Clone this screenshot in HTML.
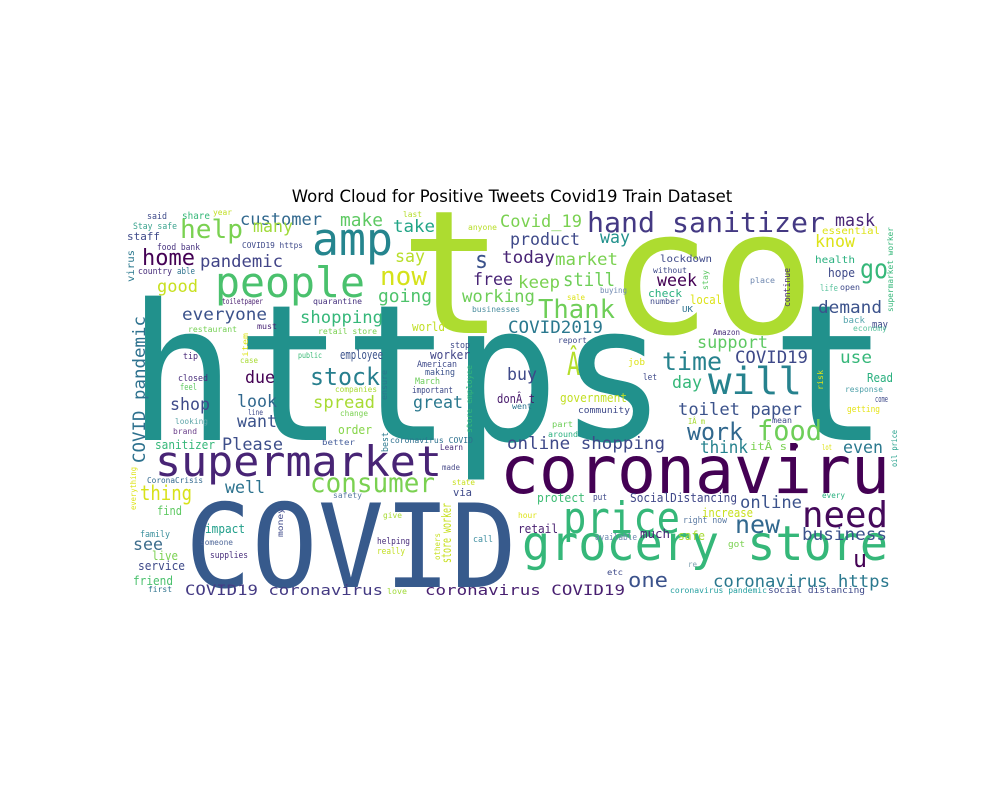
<!DOCTYPE html>
<html><head><meta charset="utf-8"><style>
html,body{margin:0;padding:0;background:#fff;}
svg{display:block;}
.w{font-family:"DejaVu Sans Mono","Liberation Mono",monospace;}
.t{font-family:"DejaVu Sans","Liberation Sans",sans-serif;}
</style></head><body>
<svg width="1000" height="800" viewBox="0 0 1000 800" xmlns="http://www.w3.org/2000/svg">
<rect width="1000" height="800" fill="#fff"/>
<text class="t" x="512" y="202" font-size="16.5" text-anchor="middle" fill="#000">Word Cloud for Positive Tweets Covid19 Train Dataset</text>
<g class="w">
<text x="128" y="440" font-size="190" fill="#21918c" textLength="539" lengthAdjust="spacingAndGlyphs">https</text>
<text x="770" y="440" font-size="190" fill="#21918c" textLength="120" lengthAdjust="spacingAndGlyphs">t</text>
<text x="400" y="333" font-size="172" fill="#addc30" textLength="415" lengthAdjust="spacingAndGlyphs">t co</text>
<text x="185" y="587" font-size="116" fill="#375a8c" textLength="332" lengthAdjust="spacingAndGlyphs">COVID</text>
<text x="500" y="493" font-size="66" fill="#440154" textLength="390" lengthAdjust="spacingAndGlyphs">coronaviru</text>
<text x="155" y="476" font-size="42" fill="#482475" textLength="287" lengthAdjust="spacingAndGlyphs">supermarket</text>
<text x="522" y="560" font-size="48" fill="#35b779" textLength="366" lengthAdjust="spacingAndGlyphs">grocery store</text>
<text x="563" y="533" font-size="44" fill="#35b779" textLength="117" lengthAdjust="spacingAndGlyphs">price</text>
<text x="215" y="297" font-size="42" fill="#4ac16d" textLength="150" lengthAdjust="spacingAndGlyphs">people</text>
<text x="312" y="255" font-size="45" fill="#25858e" textLength="81" lengthAdjust="spacingAndGlyphs">amp</text>
<text x="802" y="527" font-size="36" fill="#45095b" textLength="86" lengthAdjust="spacingAndGlyphs">need</text>
<text x="708" y="394" font-size="37" fill="#26828e" textLength="94" lengthAdjust="spacingAndGlyphs">will</text>
<text x="587" y="232" font-size="28" fill="#443983" textLength="238" lengthAdjust="spacingAndGlyphs">hand sanitizer</text>
<text x="310" y="492" font-size="27" fill="#7ad151" textLength="125" lengthAdjust="spacingAndGlyphs">consumer</text>
<text x="538" y="318" font-size="26" fill="#6ece58" textLength="77" lengthAdjust="spacingAndGlyphs">Thank</text>
<text x="757" y="440" font-size="28" fill="#6ece58" textLength="65" lengthAdjust="spacingAndGlyphs">food</text>
<text x="687" y="440" font-size="24" fill="#31688e" textLength="56" lengthAdjust="spacingAndGlyphs">work</text>
<text x="662" y="370" font-size="25" fill="#26828e" textLength="60" lengthAdjust="spacingAndGlyphs">time</text>
<text x="735" y="533" font-size="25" fill="#31688e" textLength="45" lengthAdjust="spacingAndGlyphs">new</text>
<text x="180" y="238" font-size="26" fill="#7ad151" textLength="63" lengthAdjust="spacingAndGlyphs">help</text>
<text x="142" y="265" font-size="22" fill="#440154" textLength="53" lengthAdjust="spacingAndGlyphs">home</text>
<text x="310" y="385" font-size="24" fill="#277f8e" textLength="70" lengthAdjust="spacingAndGlyphs">stock</text>
<text x="860" y="278" font-size="27" fill="#35b779" textLength="28" lengthAdjust="spacingAndGlyphs">go</text>
<text x="853" y="567" font-size="24" fill="#440154" textLength="14" lengthAdjust="spacingAndGlyphs">u</text>
<text x="475" y="268" font-size="24" fill="#3b528b" textLength="13" lengthAdjust="spacingAndGlyphs">s</text>
<text x="628" y="587" font-size="20" fill="#3b528b" textLength="40" lengthAdjust="spacingAndGlyphs">one</text>
<text x="380" y="285" font-size="26" fill="#d5e21a" textLength="47" lengthAdjust="spacingAndGlyphs">now</text>
<text x="567" y="375" font-size="32" fill="#b5de2b" textLength="13" lengthAdjust="spacingAndGlyphs">Â</text>
<text x="140" y="500" font-size="20" fill="#d8e219" textLength="52" lengthAdjust="spacingAndGlyphs">thing</text>
<text x="240" y="225" font-size="17" fill="#31688e" textLength="82" lengthAdjust="spacingAndGlyphs">customer</text>
<text x="253" y="232" font-size="17" fill="#a0da39" textLength="40" lengthAdjust="spacingAndGlyphs">many</text>
<text x="340" y="226" font-size="18" fill="#5ec962" textLength="43" lengthAdjust="spacingAndGlyphs">make</text>
<text x="393" y="232" font-size="17" fill="#20a486" textLength="42" lengthAdjust="spacingAndGlyphs">take</text>
<text x="200" y="267" font-size="17" fill="#414487" textLength="83" lengthAdjust="spacingAndGlyphs">pandemic</text>
<text x="157" y="292" font-size="17" fill="#c8e020" textLength="41" lengthAdjust="spacingAndGlyphs">good</text>
<text x="395" y="262" font-size="17" fill="#b8de29" textLength="30" lengthAdjust="spacingAndGlyphs">say</text>
<text x="378" y="302" font-size="18" fill="#4ec36b" textLength="54" lengthAdjust="spacingAndGlyphs">going</text>
<text x="182" y="320" font-size="17" fill="#3b528b" textLength="85" lengthAdjust="spacingAndGlyphs">everyone</text>
<text x="300" y="323" font-size="17" fill="#35b779" textLength="83" lengthAdjust="spacingAndGlyphs">shopping</text>
<text x="245" y="383" font-size="17" fill="#440154" textLength="30" lengthAdjust="spacingAndGlyphs">due</text>
<text x="170" y="410" font-size="17" fill="#3e4989" textLength="40" lengthAdjust="spacingAndGlyphs">shop</text>
<text x="237" y="407" font-size="17" fill="#31688e" textLength="40" lengthAdjust="spacingAndGlyphs">look</text>
<text x="313" y="408" font-size="17" fill="#a8db34" textLength="62" lengthAdjust="spacingAndGlyphs">spread</text>
<text x="413" y="408" font-size="17" fill="#2a788e" textLength="50" lengthAdjust="spacingAndGlyphs">great</text>
<text x="237" y="427" font-size="17" fill="#3b528b" textLength="40" lengthAdjust="spacingAndGlyphs">want</text>
<text x="222" y="450" font-size="17" fill="#3d4e8a" textLength="61" lengthAdjust="spacingAndGlyphs">Please</text>
<text x="225" y="493" font-size="17" fill="#2c728e" textLength="40" lengthAdjust="spacingAndGlyphs">well</text>
<text x="133" y="550" font-size="17" fill="#3d6d8c" textLength="30" lengthAdjust="spacingAndGlyphs">see</text>
<text x="185" y="595" font-size="14" fill="#443a83" textLength="198" lengthAdjust="spacingAndGlyphs">COVID19 coronavirus</text>
<text x="425" y="595" font-size="14" fill="#481f70" textLength="200" lengthAdjust="spacingAndGlyphs">coronavirus COVID19</text>
<text x="500" y="227" font-size="17" fill="#7ad151" textLength="82" lengthAdjust="spacingAndGlyphs">Covid_19</text>
<text x="835" y="226" font-size="17" fill="#482475" textLength="40" lengthAdjust="spacingAndGlyphs">mask</text>
<text x="510" y="245" font-size="17" fill="#3e4989" textLength="70" lengthAdjust="spacingAndGlyphs">product</text>
<text x="600" y="243" font-size="17" fill="#21918c" textLength="30" lengthAdjust="spacingAndGlyphs">way</text>
<text x="815" y="247" font-size="17" fill="#dde318" textLength="40" lengthAdjust="spacingAndGlyphs">know</text>
<text x="502" y="263" font-size="17" fill="#482475" textLength="53" lengthAdjust="spacingAndGlyphs">today</text>
<text x="555" y="265" font-size="17" fill="#7ad151" textLength="63" lengthAdjust="spacingAndGlyphs">market</text>
<text x="473" y="285" font-size="17" fill="#482475" textLength="40" lengthAdjust="spacingAndGlyphs">free</text>
<text x="518" y="288" font-size="17" fill="#7ad151" textLength="42" lengthAdjust="spacingAndGlyphs">keep</text>
<text x="563" y="286" font-size="19" fill="#6ece58" textLength="52" lengthAdjust="spacingAndGlyphs">still</text>
<text x="657" y="286" font-size="17" fill="#440154" textLength="40" lengthAdjust="spacingAndGlyphs">week</text>
<text x="462" y="302" font-size="17" fill="#6ece58" textLength="73" lengthAdjust="spacingAndGlyphs">working</text>
<text x="818" y="313" font-size="17" fill="#3b528b" textLength="64" lengthAdjust="spacingAndGlyphs">demand</text>
<text x="508" y="333" font-size="17" fill="#2a788e" textLength="95" lengthAdjust="spacingAndGlyphs">COVID2019</text>
<text x="697" y="348" font-size="17" fill="#5ec962" textLength="71" lengthAdjust="spacingAndGlyphs">support</text>
<text x="735" y="363" font-size="17" fill="#3e4989" textLength="73" lengthAdjust="spacingAndGlyphs">COVID19</text>
<text x="840" y="363" font-size="17" fill="#35b779" textLength="32" lengthAdjust="spacingAndGlyphs">use</text>
<text x="507" y="380" font-size="17" fill="#3e4989" textLength="30" lengthAdjust="spacingAndGlyphs">buy</text>
<text x="672" y="388" font-size="17" fill="#35b779" textLength="30" lengthAdjust="spacingAndGlyphs">day</text>
<text x="678" y="415" font-size="17" fill="#3b528b" textLength="124" lengthAdjust="spacingAndGlyphs">toilet paper</text>
<text x="507" y="449" font-size="17" fill="#3e4989" textLength="158" lengthAdjust="spacingAndGlyphs">online shopping</text>
<text x="700" y="453" font-size="17" fill="#26828e" textLength="48" lengthAdjust="spacingAndGlyphs">think</text>
<text x="843" y="453" font-size="17" fill="#2a788e" textLength="40" lengthAdjust="spacingAndGlyphs">even</text>
<text x="740" y="508" font-size="17" fill="#3b528b" textLength="62" lengthAdjust="spacingAndGlyphs">online</text>
<text x="802" y="540" font-size="17" fill="#3b528b" textLength="85" lengthAdjust="spacingAndGlyphs">business</text>
<text x="713" y="587" font-size="17" fill="#2a788e" textLength="177" lengthAdjust="spacingAndGlyphs">coronavirus https</text>
<text x="155" y="449" font-size="12" fill="#35b779" textLength="60" lengthAdjust="spacingAndGlyphs">sanitizer</text>
<text x="338" y="434" font-size="12" fill="#86d549" textLength="34" lengthAdjust="spacingAndGlyphs">order</text>
<text x="453" y="496" font-size="11" fill="#3e4989" textLength="19" lengthAdjust="spacingAndGlyphs">via</text>
<text x="157" y="515" font-size="12" fill="#5ec962" textLength="25" lengthAdjust="spacingAndGlyphs">find</text>
<text x="205" y="533" font-size="12" fill="#1f9e89" textLength="40" lengthAdjust="spacingAndGlyphs">impact</text>
<text x="152" y="560" font-size="12" fill="#7ad151" textLength="26" lengthAdjust="spacingAndGlyphs">live</text>
<text x="138" y="570" font-size="12" fill="#3e4989" textLength="47" lengthAdjust="spacingAndGlyphs">service</text>
<text x="133" y="585" font-size="12" fill="#4ac16d" textLength="40" lengthAdjust="spacingAndGlyphs">friend</text>
<text x="340" y="359" font-size="12" fill="#3b528b" textLength="43" lengthAdjust="spacingAndGlyphs">employee</text>
<text x="430" y="359" font-size="12" fill="#414487" textLength="40" lengthAdjust="spacingAndGlyphs">worker</text>
<text x="412" y="331" font-size="12" fill="#c0df25" textLength="33" lengthAdjust="spacingAndGlyphs">world</text>
<text x="127" y="240" font-size="11" fill="#3e4989" textLength="33" lengthAdjust="spacingAndGlyphs">staff</text>
<text x="497" y="403" font-size="12" fill="#481a6c" textLength="38" lengthAdjust="spacingAndGlyphs">donÂ t</text>
<text x="560" y="402" font-size="12" fill="#c2df23" textLength="67" lengthAdjust="spacingAndGlyphs">government</text>
<text x="537" y="502" font-size="12" fill="#3dbc74" textLength="48" lengthAdjust="spacingAndGlyphs">protect</text>
<text x="630" y="502" font-size="12" fill="#3f4788" textLength="107" lengthAdjust="spacingAndGlyphs">SocialDistancing</text>
<text x="702" y="517" font-size="12" fill="#c8e020" textLength="51" lengthAdjust="spacingAndGlyphs">increase</text>
<text x="518" y="533" font-size="12" fill="#481f70" textLength="40" lengthAdjust="spacingAndGlyphs">retail</text>
<text x="640" y="538" font-size="12" fill="#482475" textLength="30" lengthAdjust="spacingAndGlyphs">much</text>
<text x="678" y="540" font-size="12" fill="#a8db34" textLength="27" lengthAdjust="spacingAndGlyphs">safe</text>
<text x="750" y="450" font-size="11" fill="#7ad151" textLength="37" lengthAdjust="spacingAndGlyphs">itÂ s</text>
<text x="660" y="262" font-size="10" fill="#3e4989" textLength="52" lengthAdjust="spacingAndGlyphs">lockdown</text>
<text x="815" y="263" font-size="10" fill="#2ab07f" textLength="40" lengthAdjust="spacingAndGlyphs">health</text>
<text x="822" y="234" font-size="10" fill="#dde318" textLength="58" lengthAdjust="spacingAndGlyphs">essential</text>
<text x="828" y="277" font-size="12" fill="#3e4989" textLength="27" lengthAdjust="spacingAndGlyphs">hope</text>
<text x="648" y="297" font-size="11" fill="#2ab07f" textLength="34" lengthAdjust="spacingAndGlyphs">check</text>
<text x="690" y="304" font-size="12" fill="#dde318" textLength="32" lengthAdjust="spacingAndGlyphs">local</text>
<text x="867" y="382" font-size="12" fill="#2ab07f" textLength="26" lengthAdjust="spacingAndGlyphs">Read</text>
<text x="872" y="328" font-size="11" fill="#3e4989" textLength="16" lengthAdjust="spacingAndGlyphs">may</text>
<text x="147" y="219" font-size="9" fill="#3e4a89" textLength="20" lengthAdjust="spacingAndGlyphs">said</text>
<text x="182" y="219" font-size="10" fill="#35b779" textLength="28" lengthAdjust="spacingAndGlyphs">share</text>
<text x="213" y="215" font-size="8" fill="#c2df23" textLength="19" lengthAdjust="spacingAndGlyphs">year</text>
<text x="133" y="229" font-size="9" fill="#3aa38e" textLength="44" lengthAdjust="spacingAndGlyphs">Stay safe</text>
<text x="157" y="250" font-size="9" fill="#46317e" textLength="43" lengthAdjust="spacingAndGlyphs">food bank</text>
<text x="138" y="274" font-size="9" fill="#472d7b" textLength="34" lengthAdjust="spacingAndGlyphs">country</text>
<text x="177" y="274" font-size="9" fill="#2c728e" textLength="18" lengthAdjust="spacingAndGlyphs">able</text>
<text x="242" y="248" font-size="8" fill="#3e4989" textLength="61" lengthAdjust="spacingAndGlyphs">COVID19 https</text>
<text x="222" y="304" font-size="8" fill="#481f70" textLength="41" lengthAdjust="spacingAndGlyphs">toiletpaper</text>
<text x="313" y="304" font-size="8" fill="#46327e" textLength="49" lengthAdjust="spacingAndGlyphs">quarantine</text>
<text x="188" y="332" font-size="8" fill="#75d054" textLength="49" lengthAdjust="spacingAndGlyphs">restaurant</text>
<text x="257" y="329" font-size="8" fill="#482475" textLength="20" lengthAdjust="spacingAndGlyphs">must</text>
<text x="318" y="334" font-size="8" fill="#7ad151" textLength="59" lengthAdjust="spacingAndGlyphs">retail store</text>
<text x="240" y="363" font-size="8" fill="#a8db34" textLength="18" lengthAdjust="spacingAndGlyphs">case</text>
<text x="183" y="359" font-size="9" fill="#482878" textLength="15" lengthAdjust="spacingAndGlyphs">tip</text>
<text x="178" y="381" font-size="9" fill="#472c7a" textLength="30" lengthAdjust="spacingAndGlyphs">closed</text>
<text x="180" y="390" font-size="9" fill="#5ec962" textLength="17" lengthAdjust="spacingAndGlyphs">feel</text>
<text x="298" y="358" font-size="8" fill="#3aba76" textLength="24" lengthAdjust="spacingAndGlyphs">public</text>
<text x="335" y="392" font-size="8" fill="#a8db34" textLength="42" lengthAdjust="spacingAndGlyphs">companies</text>
<text x="450" y="348" font-size="9" fill="#3e4a89" textLength="20" lengthAdjust="spacingAndGlyphs">stop</text>
<text x="417" y="367" font-size="9" fill="#3e4989" textLength="40" lengthAdjust="spacingAndGlyphs">American</text>
<text x="425" y="375" font-size="9" fill="#3b528b" textLength="30" lengthAdjust="spacingAndGlyphs">making</text>
<text x="415" y="384" font-size="9" fill="#6ccd5a" textLength="25" lengthAdjust="spacingAndGlyphs">March</text>
<text x="412" y="393" font-size="9" fill="#3e4a89" textLength="41" lengthAdjust="spacingAndGlyphs">important</text>
<text x="468" y="230" font-size="8" fill="#b8de29" textLength="29" lengthAdjust="spacingAndGlyphs">anyone</text>
<text x="403" y="217" font-size="8" fill="#b5de2b" textLength="19" lengthAdjust="spacingAndGlyphs">last</text>
<text x="175" y="424" font-size="8" fill="#5da5a8" textLength="33" lengthAdjust="spacingAndGlyphs">looking</text>
<text x="248" y="415" font-size="8" fill="#3e4989" textLength="15" lengthAdjust="spacingAndGlyphs">line</text>
<text x="340" y="416" font-size="8" fill="#7ad151" textLength="28" lengthAdjust="spacingAndGlyphs">change</text>
<text x="173" y="434" font-size="8" fill="#6a3f8a" textLength="24" lengthAdjust="spacingAndGlyphs">brand</text>
<text x="390" y="443" font-size="8" fill="#2d708e" textLength="83" lengthAdjust="spacingAndGlyphs">coronavirus COVID</text>
<text x="322" y="445" font-size="8" fill="#48609c" textLength="33" lengthAdjust="spacingAndGlyphs">better</text>
<text x="440" y="450" font-size="8" fill="#472c7a" textLength="23" lengthAdjust="spacingAndGlyphs">Learn</text>
<text x="442" y="470" font-size="8" fill="#4b4d8a" textLength="18" lengthAdjust="spacingAndGlyphs">made</text>
<text x="147" y="483" font-size="8" fill="#31688e" textLength="56" lengthAdjust="spacingAndGlyphs">CoronaCrisis</text>
<text x="452" y="485" font-size="8" fill="#c8e020" textLength="23" lengthAdjust="spacingAndGlyphs">state</text>
<text x="333" y="498" font-size="8" fill="#5c7ba3" textLength="29" lengthAdjust="spacingAndGlyphs">safety</text>
<text x="383" y="518" font-size="8" fill="#a8db34" textLength="19" lengthAdjust="spacingAndGlyphs">give</text>
<text x="140" y="537" font-size="9" fill="#3a8f9c" textLength="30" lengthAdjust="spacingAndGlyphs">family</text>
<text x="200" y="545" font-size="8" fill="#51699a" textLength="33" lengthAdjust="spacingAndGlyphs">someone</text>
<text x="377" y="544" font-size="9" fill="#472c7a" textLength="33" lengthAdjust="spacingAndGlyphs">helping</text>
<text x="377" y="554" font-size="9" fill="#c2df23" textLength="28" lengthAdjust="spacingAndGlyphs">really</text>
<text x="473" y="542" font-size="9" fill="#3e8ea0" textLength="20" lengthAdjust="spacingAndGlyphs">call</text>
<text x="210" y="558" font-size="9" fill="#472c7a" textLength="38" lengthAdjust="spacingAndGlyphs">supplies</text>
<text x="148" y="592" font-size="8" fill="#2c728e" textLength="24" lengthAdjust="spacingAndGlyphs">first</text>
<text x="387" y="594" font-size="8" fill="#a0da39" textLength="20" lengthAdjust="spacingAndGlyphs">love</text>
<text x="512" y="409" font-size="8" fill="#2c728e" textLength="20" lengthAdjust="spacingAndGlyphs">went</text>
<text x="578" y="413" font-size="9" fill="#3e4989" textLength="52" lengthAdjust="spacingAndGlyphs">community</text>
<text x="552" y="427" font-size="8" fill="#6ece58" textLength="21" lengthAdjust="spacingAndGlyphs">part</text>
<text x="548" y="437" font-size="8" fill="#2ab07f" textLength="30" lengthAdjust="spacingAndGlyphs">around</text>
<text x="688" y="424" font-size="8" fill="#a8db34" textLength="17" lengthAdjust="spacingAndGlyphs">IÂ m</text>
<text x="772" y="423" font-size="8" fill="#3e4989" textLength="20" lengthAdjust="spacingAndGlyphs">mean</text>
<circle cx="795" cy="446" r="3" fill="#440154"/>
<text x="822" y="450" font-size="8" fill="#dde318" textLength="10" lengthAdjust="spacingAndGlyphs">lot</text>
<text x="847" y="412" font-size="9" fill="#e5e419" textLength="33" lengthAdjust="spacingAndGlyphs">getting</text>
<text x="875" y="402" font-size="9" fill="#3e4989" textLength="13" lengthAdjust="spacingAndGlyphs">come</text>
<text x="593" y="500" font-size="9" fill="#3e4989" textLength="14" lengthAdjust="spacingAndGlyphs">put</text>
<text x="822" y="498" font-size="8" fill="#2ab07f" textLength="23" lengthAdjust="spacingAndGlyphs">every</text>
<text x="518" y="518" font-size="8" fill="#dde318" textLength="19" lengthAdjust="spacingAndGlyphs">hour</text>
<text x="683" y="523" font-size="9" fill="#5c7ba3" textLength="44" lengthAdjust="spacingAndGlyphs">right now</text>
<text x="595" y="540" font-size="9" fill="#6f88b0" textLength="42" lengthAdjust="spacingAndGlyphs">available</text>
<text x="728" y="547" font-size="9" fill="#7ad151" textLength="17" lengthAdjust="spacingAndGlyphs">got</text>
<text x="688" y="567" font-size="8" fill="#7fa0b0" textLength="9" lengthAdjust="spacingAndGlyphs">re</text>
<text x="607" y="575" font-size="8" fill="#3e4989" textLength="16" lengthAdjust="spacingAndGlyphs">etc</text>
<text x="670" y="593" font-size="8" fill="#26a0a0" textLength="97" lengthAdjust="spacingAndGlyphs">coronavirus pandemic</text>
<text x="768" y="593" font-size="9" fill="#3e4989" textLength="97" lengthAdjust="spacingAndGlyphs">social distancing</text>
<text x="653" y="273" font-size="8" fill="#3e4989" textLength="34" lengthAdjust="spacingAndGlyphs">without</text>
<text x="750" y="283" font-size="8" fill="#6f88b0" textLength="25" lengthAdjust="spacingAndGlyphs">place</text>
<text x="820" y="291" font-size="9" fill="#5ec4a0" textLength="18" lengthAdjust="spacingAndGlyphs">life</text>
<text x="840" y="290" font-size="8" fill="#3e4989" textLength="20" lengthAdjust="spacingAndGlyphs">open</text>
<text x="600" y="293" font-size="8" fill="#6f88b0" textLength="27" lengthAdjust="spacingAndGlyphs">buying</text>
<text x="567" y="300" font-size="8" fill="#dde318" textLength="18" lengthAdjust="spacingAndGlyphs">sale</text>
<text x="650" y="304" font-size="8" fill="#3e4989" textLength="30" lengthAdjust="spacingAndGlyphs">number</text>
<text x="472" y="312" font-size="8" fill="#4d8fa0" textLength="48" lengthAdjust="spacingAndGlyphs">businesses</text>
<text x="682" y="312" font-size="8" fill="#2c728e" textLength="11" lengthAdjust="spacingAndGlyphs">UK</text>
<text x="843" y="323" font-size="9" fill="#58a6ae" textLength="22" lengthAdjust="spacingAndGlyphs">back</text>
<text x="853" y="331" font-size="8" fill="#5ec4a0" textLength="34" lengthAdjust="spacingAndGlyphs">economy</text>
<text x="713" y="335" font-size="8" fill="#472c7a" textLength="27" lengthAdjust="spacingAndGlyphs">Amazon</text>
<text x="558" y="343" font-size="8" fill="#3e4989" textLength="29" lengthAdjust="spacingAndGlyphs">report</text>
<text x="628" y="365" font-size="9" fill="#dde318" textLength="17" lengthAdjust="spacingAndGlyphs">job</text>
<text x="643" y="380" font-size="9" fill="#3e4989" textLength="14" lengthAdjust="spacingAndGlyphs">let</text>
<text x="845" y="392" font-size="8" fill="#4d9fa8" textLength="38" lengthAdjust="spacingAndGlyphs">response</text>
<!-- vertical words -->
<text transform="translate(145,463) rotate(-90)" font-size="17" fill="#2d718e" textLength="147" lengthAdjust="spacingAndGlyphs">COVID pandemic</text>
<text transform="translate(134,282) rotate(-90)" font-size="10" fill="#2a788e" textLength="32" lengthAdjust="spacingAndGlyphs">virus</text>
<text transform="translate(248,357) rotate(-90)" font-size="8" fill="#dde318" textLength="24" lengthAdjust="spacingAndGlyphs">item</text>
<text transform="translate(387,400) rotate(-90)" font-size="8" fill="#2a788e" textLength="30" lengthAdjust="spacingAndGlyphs">ensure</text>
<text transform="translate(472,433) rotate(-90)" font-size="8" fill="#35b779" textLength="68" lengthAdjust="spacingAndGlyphs">store employee</text>
<text transform="translate(388,452) rotate(-90)" font-size="9" fill="#2a788e" textLength="20" lengthAdjust="spacingAndGlyphs">best</text>
<text transform="translate(136,510) rotate(-90)" font-size="8" fill="#dde318" textLength="43" lengthAdjust="spacingAndGlyphs">everything</text>
<text transform="translate(283,537) rotate(-90)" font-size="8" fill="#3e4989" textLength="29" lengthAdjust="spacingAndGlyphs">money</text>
<text transform="translate(451,563) rotate(-90)" font-size="13" fill="#c8e020" textLength="60" lengthAdjust="spacingAndGlyphs">store worker</text>
<text transform="translate(440,560) rotate(-90)" font-size="8" fill="#c8e020" textLength="27" lengthAdjust="spacingAndGlyphs">others</text>
<text transform="translate(893,312) rotate(-90)" font-size="8" fill="#35b779" textLength="85" lengthAdjust="spacingAndGlyphs">supermarket worker</text>
<text transform="translate(708,290) rotate(-90)" font-size="8" fill="#5dc863" textLength="20" lengthAdjust="spacingAndGlyphs">stay</text>
<text transform="translate(790,307) rotate(-90)" font-size="9" fill="#482878" textLength="39" lengthAdjust="spacingAndGlyphs">continue</text>
<text transform="translate(823,390) rotate(-90)" font-size="8" fill="#dde318" textLength="20" lengthAdjust="spacingAndGlyphs">risk</text>
<text transform="translate(897,467) rotate(-90)" font-size="8" fill="#1f9e89" textLength="37" lengthAdjust="spacingAndGlyphs">oil price</text>
</g>
</svg>
</body></html>
